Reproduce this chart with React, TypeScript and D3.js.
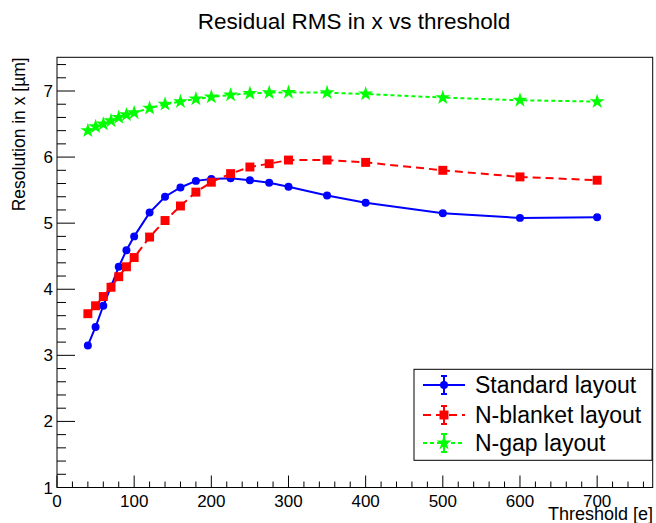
import React from "react";
import * as d3 from "d3";

const thresholds = [40, 50, 60, 70, 80, 90, 100, 120, 140, 160, 180, 200, 225, 250, 275, 300, 350, 400, 500, 600, 700];
const standardLayout = [3.15, 3.43, 3.75, 4.04, 4.34, 4.59, 4.80, 5.16, 5.40, 5.54, 5.64, 5.67, 5.68, 5.65, 5.61, 5.55, 5.42, 5.31, 5.15, 5.08, 5.09];
const nBlanketLayout = [3.63, 3.75, 3.89, 4.03, 4.19, 4.34, 4.48, 4.79, 5.04, 5.26, 5.47, 5.62, 5.75, 5.85, 5.90, 5.955, 5.955, 5.92, 5.80, 5.70, 5.65];
const nGapLayout = [6.40, 6.46, 6.50, 6.55, 6.60, 6.64, 6.67, 6.74, 6.80, 6.84, 6.88, 6.91, 6.94, 6.965, 6.975, 6.98, 6.975, 6.955, 6.90, 6.86, 6.84];
const seriesNames = ["Standard layout", "N-blanket layout", "N-gap layout"];
const xTickLabels = [0, 100, 200, 300, 400, 500, 600, 700];
const yTickLabels = [1, 2, 3, 4, 5, 6, 7];

const W = 656, H = 523;
const L = 57, R = 652.7, T = 57.3, B = 487.5;
const FONT = "'Liberation Sans', Arial, Helvetica, sans-serif";

export default function App() {
  const x = d3.scaleLinear().domain([0, 772]).range([L, R]);
  const y = d3.scaleLinear().domain([1, 7.51]).range([B, T]);

  const series = [
    { name: seriesNames[0], values: standardLayout, color: "#0000ff", dash: "none", sym: d3.symbolCircle, size: 50 },
    { name: seriesNames[1], values: nBlanketLayout, color: "#ff0000", dash: "8,5", sym: d3.symbolSquare, size: 80 },
    { name: seriesNames[2], values: nGapLayout, color: "#00ff00", dash: "4,3", sym: d3.symbolStar, size: 70 },
  ];

  const line = d3.line<[number, number]>().x(d => x(d[0])).y(d => y(d[1]));

  const xMinor: number[] = d3.range(0, 772, 20);
  const yMinor: number[] = d3.range(1, 7.51, 0.2);

  const legX = 414, legY = 369.3, legW = 238, legH = 91;
  const rowY = [385, 415, 443];

  return (
    <svg width={W} height={H} style={{ position: "absolute", left: 0, top: 0, background: "#fff" }} fontFamily={FONT}>
      <rect x={0} y={0} width={W} height={H} fill="#fff" />
      <text x={354} y={29} textAnchor="middle" fontSize={22.5} fill="#000">Residual RMS in x vs threshold</text>

      {/* series */}
      {series.map((s, i) => {
        const pts: [number, number][] = thresholds.map((t, j) => [t, s.values[j]]);
        const sym = d3.symbol().type(s.sym).size(s.size)();
        return (
          <g key={i}>
            <path d={line(pts) || ""} fill="none" stroke={s.color} strokeWidth={2} strokeDasharray={s.dash} />
            {pts.map((p, j) => (
              <path key={j} d={sym || ""} transform={`translate(${x(p[0])},${y(p[1])})`} fill={s.color} />
            ))}
          </g>
        );
      })}

      {/* frame */}
      <rect x={L} y={T} width={R - L} height={B - T} fill="none" stroke="#000" strokeWidth={1} />

      {/* x axis ticks */}
      {xMinor.map((v, i) => {
        const major = Math.abs(v % 100) < 1e-6;
        return <line key={i} x1={x(v)} x2={x(v)} y1={B} y2={B - (major ? 12 : 6)} stroke="#000" strokeWidth={1} />;
      })}
      {xTickLabels.map((v, i) => (
        <text key={i} x={x(v)} y={507} textAnchor="middle" fontSize={17} fill="#000">{v}</text>
      ))}
      <text x={653} y={520} textAnchor="end" fontSize={18} fill="#000">Threshold [e]</text>

      {/* y axis ticks */}
      {yMinor.map((v, i) => {
        const major = Math.abs(v - Math.round(v)) < 1e-6;
        return <line key={i} x1={L} x2={L + (major ? 18 : 9)} y1={y(v)} y2={y(v)} stroke="#000" strokeWidth={1} />;
      })}
      {yTickLabels.map((v, i) => (
        <text key={i} x={53} y={y(v) + 6} textAnchor="end" fontSize={17} fill="#000">{v}</text>
      ))}
      <text transform={`translate(25,${T}) rotate(-90)`} textAnchor="end" fontSize={17.5} fill="#000">Resolution in x [µm]</text>

      {/* legend */}
      <rect x={legX} y={legY} width={legW} height={legH} fill="#fff" stroke="#000" strokeWidth={1} />
      {series.map((s, i) => {
        const cy = rowY[i];
        const sym = d3.symbol().type(s.sym).size(s.size)();
        return (
          <g key={i}>
            <line x1={423} x2={465} y1={cy} y2={cy} stroke={s.color} strokeWidth={2} strokeDasharray={s.dash} />
            <line x1={444} x2={444} y1={cy - 9} y2={cy + 9} stroke={s.color} strokeWidth={2} />
            <line x1={441} x2={447} y1={cy - 9} y2={cy - 9} stroke={s.color} strokeWidth={2} />
            <line x1={441} x2={447} y1={cy + 9} y2={cy + 9} stroke={s.color} strokeWidth={2} />
            <path d={sym || ""} transform={`translate(444,${cy})`} fill={s.color} />
            <text x={475} y={cy + 8} fontSize={23} fill="#000">{s.name}</text>
          </g>
        );
      })}
    </svg>
  );
}
